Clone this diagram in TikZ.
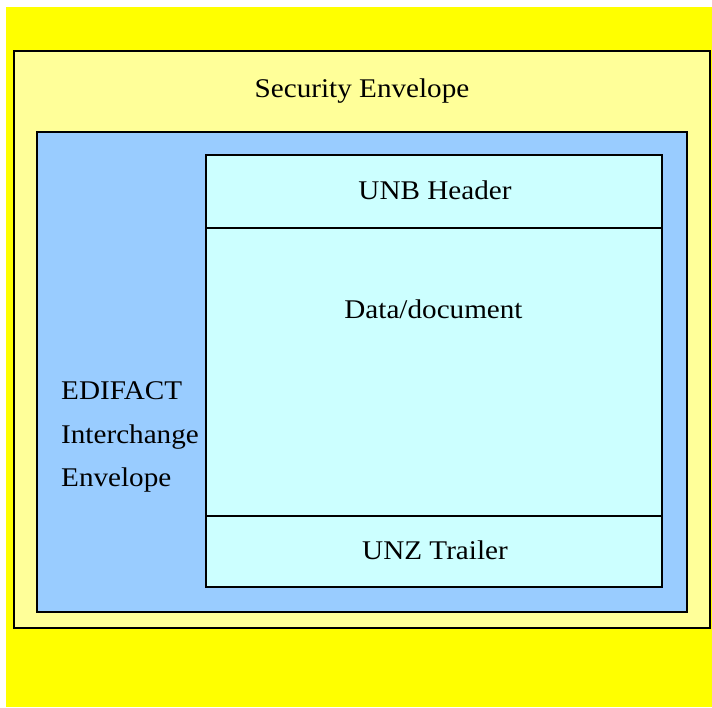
\documentclass[tikz,border=0pt]{standalone}
\usepackage{fontspec}
\setmainfont{Liberation Serif}
\definecolor{bgyellow}{HTML}{FFFF00}
\definecolor{secyellow}{HTML}{FFFF99}
\definecolor{edblue}{HTML}{99CCFF}
\definecolor{datacyan}{HTML}{CCFFFF}
\tikzset{
  boxline/.style={draw=black,line width=2pt},
  lbl/.style={inner sep=0pt,font=\fontsize{27}{30}\selectfont},
}
\newcommand{\wtxt}[1]{\scalebox{1.08}[1]{#1}}
\begin{document}
\begin{tikzpicture}[x=1pt,y=-1pt]
\useasboundingbox (0,0) rectangle (712,707);
\fill[white] (0,0) rectangle (712,707);
\fill[bgyellow] (6,7) rectangle (712,707);
\path[boxline,fill=secyellow] (14,51) rectangle (710,628);
\path[boxline,fill=edblue] (37,132) rectangle (687,612);
\path[boxline,fill=datacyan] (206,155) rectangle (662,587);
\coordinate (h1) at (206,228);
\coordinate (h2) at (662,228);
\coordinate (t1) at (206,516);
\coordinate (t2) at (662,516);
\draw[boxline] (h1) -- (h2);
\draw[boxline] (t1) -- (t2);
\node[lbl,anchor=base] (sec) at (362,97) {\wtxt{Security Envelope}};
\node[lbl,anchor=base] (unb) at (435,199) {\wtxt{UNB Header}};
\node[lbl,anchor=base] (data) at (433.5,318) {\wtxt{Data/document}};
\node[lbl,anchor=base] (unz) at (435,559) {\wtxt{UNZ Trailer}};
\node[lbl,anchor=base west] (edi1) at (61,399) {\wtxt{EDIFACT}};
\node[lbl,anchor=base west] (edi2) at (61,443) {\wtxt{Interchange}};
\node[lbl,anchor=base west] (edi3) at (61,486) {\wtxt{Envelope}};
\end{tikzpicture}
\end{document}
